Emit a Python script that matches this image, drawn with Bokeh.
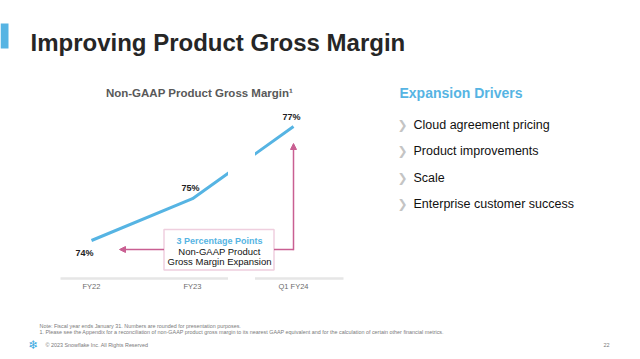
from bokeh.plotting import figure
from bokeh.models import Range1d, Label, FixedTicker, Arrow, NormalHead, BoxAnnotation, LinearAxis
from bokeh.embed import file_html
from bokeh.resources import INLINE

# ---------------- data ----------------
periods = ["FY22", "FY23", "Q1 FY24"]
margin = [74.0, 75.1, 77.0]
margin_labels = ["74%", "75%", "77%"]
drivers = ["Cloud agreement pricing", "Product improvements", "Scale",
           "Enterprise customer success"]
slide_title = "Improving Product Gross Margin"
chart_title = "Non-GAAP Product Gross Margin\u00b9"
drivers_title = "Expansion Drivers"
callout = ["3 Percentage Points", "Non-GAAP Product", "Gross Margin Expansion"]
notes = ["Note: Fiscal year ends January 31. Numbers are rounded for presentation purposes.",
         "1.  Please see the Appendix for a reconciliation of non-GAAP product gross margin to its nearest GAAP equivalent and for the calculation of certain other financial metrics."]
copyright_text = "\u00a9 2023 Snowflake Inc. All Rights Reserved"
page_no = "22"

# ---------------- style / layout ----------------
FONT = "Liberation Sans"
BLUE = "#56b4e3"
PINK = "#c95f92"
DARK = "#222222"

W, H = 632, 351
X0_REF, X_STEP = 91, 101      # pixel of first category, px per category
Y74_REF, Y_STEP = 240, 38     # pixel of 74%, px per point
AXIS_REF = 273.5


def dx(rx):
    return (rx - X0_REF) / X_STEP


def dy(ry):
    return 74 + (Y74_REF - ry) / Y_STEP


p = figure(width=W, height=H, output_backend="svg", toolbar_location=None,
           x_range=Range1d(dx(0), dx(W)), y_range=Range1d(dy(H), dy(0)),
           x_axis_location=None, y_axis_location=None,
           min_border_left=0, min_border_right=0, min_border_top=0, min_border_bottom=0)
p.outline_line_color = None
p.grid.visible = False
p.background_fill_color = "white"
p.border_fill_color = "white"

xs = list(range(len(periods)))
ax = LinearAxis(fixed_location=dy(AXIS_REF))
ax.ticker = FixedTicker(ticks=xs)
ax.major_label_overrides = {i: lab for i, lab in zip(xs, periods)}
ax.axis_line_color = None
ax.major_tick_line_color = None
ax.minor_tick_line_color = None
ax.major_label_standoff = 2
ax.major_label_text_font = FONT
ax.major_label_text_font_size = "7.5px"
ax.major_label_text_color = "#6b6b6b"
p.add_layout(ax, "below")

# baseline
p.segment(x0=[dx(60)], y0=[dy(278)], x1=[dx(343)], y1=[dy(278)],
          line_color="#e6e6e6", line_width=2.5)
# margin line
p.line(xs, margin, line_width=3, line_color=BLUE, line_cap="butt")
# axis break mask
p.quad(left=[dx(227.5)] * 2, right=[dx(254.5)] * 2,
       bottom=[dy(190), dy(283)], top=[dy(140), dy(274)],
       fill_color="white", line_color=None)

# blue accent bar
p.quad(left=[dx(0)], right=[dx(8)], bottom=[dy(48)], top=[dy(23)],
       fill_color=BLUE, line_color=None)

# value labels
offsets = [(-7, -12), (-2, 11), (-2, 10)]
for x, v, lab, (ox, oy) in zip(xs, margin, margin_labels, offsets):
    p.add_layout(Label(x=x, y=v, x_offset=ox, y_offset=oy, text=lab,
                       text_font=FONT, text_font_size="9px", text_font_style="bold",
                       text_color=DARK, text_align="center", text_baseline="middle"))

# callout box and arrows
p.add_layout(BoxAnnotation(left=dx(163.5), right=dx(273.5), top=dy(229), bottom=dy(269.5),
                           fill_color="white", fill_alpha=1, line_color=PINK, line_width=1.5))
p.add_layout(Arrow(end=NormalHead(size=6, fill_color=PINK, line_color=PINK),
                   x_start=dx(163.5), y_start=dy(249), x_end=dx(119), y_end=dy(249),
                   line_color=PINK, line_width=1.5))
p.add_layout(Arrow(end=None, x_start=dx(273.5), y_start=dy(249), x_end=xs[-1], y_end=dy(249),
                   line_color=PINK, line_width=1.5))
p.add_layout(Arrow(end=NormalHead(size=6, fill_color=PINK, line_color=PINK),
                   x_start=xs[-1], y_start=dy(249.7), x_end=xs[-1], y_end=dy(143),
                   line_color=PINK, line_width=1.5))
for i, t in enumerate(callout):
    p.add_layout(Label(x=dx(219), y=dy(240 + i * 10.5), text=t, text_font=FONT,
                       text_font_size="9.5px" if i else "9px",
                       text_font_style="bold" if i == 0 else "normal",
                       text_color=BLUE if i == 0 else "#111111",
                       text_align="center", text_baseline="middle"))

# titles
p.add_layout(Label(x=dx(30), y=dy(42), text=slide_title, text_font=FONT,
                   text_font_size="24px", text_font_style="bold", text_color="#262626",
                   text_baseline="middle"))
p.add_layout(Label(x=dx(199), y=dy(92), text=chart_title, text_font=FONT,
                   text_font_size="11.5px", text_font_style="bold", text_color="#595959",
                   text_align="center", text_baseline="middle"))
p.add_layout(Label(x=dx(399), y=dy(92), text=drivers_title, text_font=FONT,
                   text_font_size="14px", text_font_style="bold", text_color=BLUE,
                   text_baseline="middle"))
for i, d in enumerate(drivers):
    yy = 124 + i * 26.5
    p.add_layout(Label(x=dx(402), y=dy(yy), text="\u276f", text_font="DejaVu Sans",
                       text_font_size="12px", text_color="#c4c4c4",
                       text_align="center", text_baseline="middle"))
    p.add_layout(Label(x=dx(413), y=dy(yy), text=d, text_font=FONT,
                       text_font_size="12.5px", text_color="#111111",
                       text_baseline="middle"))

# footer
for i, n in enumerate(notes):
    p.add_layout(Label(x=dx(39), y=dy(325 + i * 6), text=n, text_font=FONT,
                       text_font_size="5.4px", text_color="#7a7a7a",
                       text_baseline="middle"))
p.add_layout(Label(x=dx(33), y=dy(344), text="\u2744", text_font="DejaVu Sans",
                   text_font_size="12px", text_color="#3aa8e0",
                   text_align="center", text_baseline="middle"))
p.add_layout(Label(x=dx(45), y=dy(344), text=copyright_text, text_font=FONT,
                   text_font_size="5.4px", text_color="#7a7a7a", text_baseline="middle"))
p.add_layout(Label(x=dx(606), y=dy(344), text=page_no, text_font=FONT,
                   text_font_size="5.5px", text_color="#7a7a7a",
                   text_align="center", text_baseline="middle"))

open("out.html", "w").write(file_html(p, INLINE))
